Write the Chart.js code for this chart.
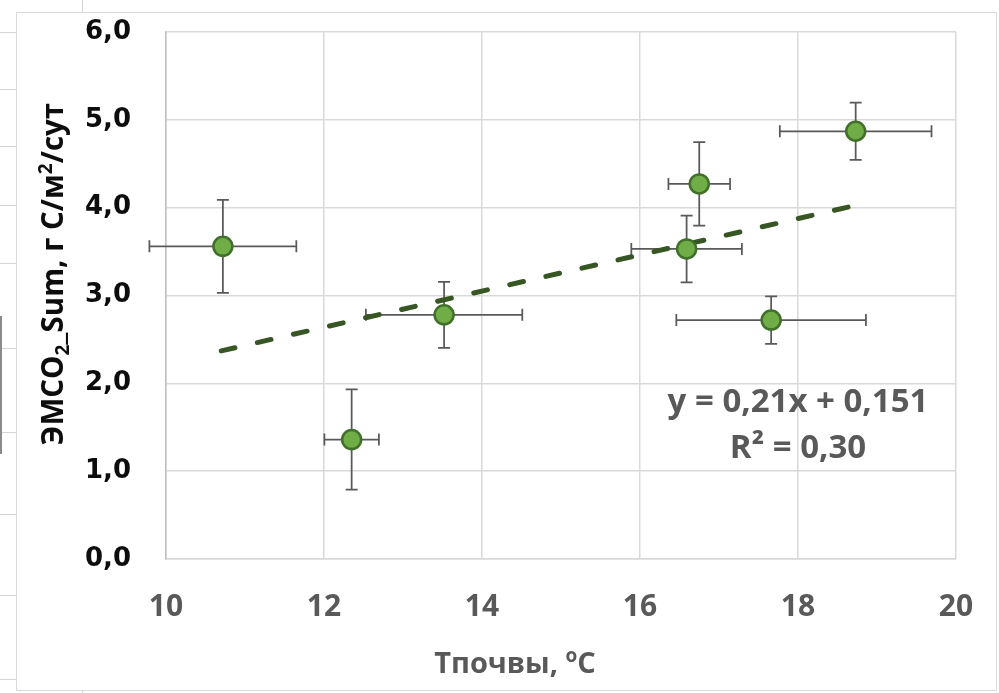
<!DOCTYPE html>
<html>
<head>
<meta charset="utf-8">
<script src="https://cdn.jsdelivr.net/npm/chart.js@4.4.1/dist/chart.umd.min.js"></script>
<style>
  html, body { margin: 0; padding: 0; background: #fff; }
  body { width: 999px; height: 693px; position: relative; overflow: hidden; }
  .cell-h { position: absolute; left: 0; width: 16px; height: 1px; background: #d4d4d4; }
  .cell-v { position: absolute; width: 1px; background: #d4d4d4; }
  .frame { position: absolute; left: 16px; top: 12px; width: 979px; height: 677px; border: 1px solid #d9d9d9; background: #fff; }
</style>
</head>
<body>
<!-- spreadsheet cells behind the chart -->
<div class="cell-h" style="top:32px"></div>
<div class="cell-h" style="top:89px"></div>
<div class="cell-h" style="top:146px"></div>
<div class="cell-h" style="top:205px"></div>
<div class="cell-h" style="top:263px"></div>
<div class="cell-h" style="top:348px"></div>
<div class="cell-h" style="top:432px"></div>
<div class="cell-h" style="top:514px"></div>
<div class="cell-h" style="top:595px"></div>
<div class="cell-h" style="top:679px"></div>
<div class="cell-v" style="left:82px; top:0; height:12px"></div>
<div class="cell-v" style="left:82px; top:690px; height:3px"></div>
<div class="cell-v" style="left:0; top:316px; height:138px; width:2px; background:#8a8a8a"></div>

<div class="frame">
  <canvas id="scatterChart" width="979" height="677"></canvas>
</div>

<script>
// data
const tempX    = [10.72, 12.35, 13.52, 16.59, 16.75, 17.66, 18.73];
const emco2    = [3.56, 1.36, 2.78, 3.53, 4.27, 2.72, 4.87];
const tempErr  = [0.93, 0.345, 0.99, 0.70, 0.39, 1.20, 0.96];
const emco2Err = [0.53, 0.57, 0.375, 0.38, 0.475, 0.27, 0.325];

// linear trend line ends
const trendX = [10.7, 18.75];
const trendY = [2.37, 4.03];

// tick values
const xTicks = [10, 12, 14, 16, 18, 20];
const yTicks = [0, 1, 2, 3, 4, 5, 6];

const eqText = 'y = 0,21x + 0,151';
const r2Text = 'R² = 0,30';

const points = tempX.map((x, i) => ({ x: x, y: emco2[i] }));
const trend = trendX.map((x, i) => ({ x: x, y: trendY[i] }));

// error bars, drawn under the markers
const errorBars = {
  id: 'errorBars',
  beforeDatasetsDraw(chart) {
    const ctx = chart.ctx;
    const xs = chart.scales.x, ys = chart.scales.y;
    const cap = 6;
    ctx.save();
    ctx.strokeStyle = '#595959';
    ctx.lineWidth = 1.75;
    tempX.forEach((x, i) => {
      const px = xs.getPixelForValue(x);
      const py = ys.getPixelForValue(emco2[i]);
      const x1 = xs.getPixelForValue(x - tempErr[i]);
      const x2 = xs.getPixelForValue(x + tempErr[i]);
      const y1 = ys.getPixelForValue(emco2[i] + emco2Err[i]);
      const y2 = ys.getPixelForValue(emco2[i] - emco2Err[i]);
      ctx.beginPath();
      ctx.moveTo(x1, py); ctx.lineTo(x2, py);
      ctx.moveTo(x1, py - cap); ctx.lineTo(x1, py + cap);
      ctx.moveTo(x2, py - cap); ctx.lineTo(x2, py + cap);
      ctx.moveTo(px, y1); ctx.lineTo(px, y2);
      ctx.moveTo(px - cap, y1); ctx.lineTo(px + cap, y1);
      ctx.moveTo(px - cap, y2); ctx.lineTo(px + cap, y2);
      ctx.stroke();
    });
    ctx.restore();
  }
};

// axis titles and trend equation
const chartText = {
  id: 'chartText',
  afterDraw(chart) {
    const ctx = chart.ctx;
    const xs = chart.scales.x, ys = chart.scales.y;
    ctx.save();

    // equation
    ctx.font = 'bold 33px "Open Sans"';
    ctx.fillStyle = '#595959';
    ctx.textAlign = 'center';
    ctx.textBaseline = 'middle';
    ctx.fillText(eqText, xs.getPixelForValue(18.0), ys.getPixelForValue(1.78));
    ctx.fillText(r2Text, xs.getPixelForValue(18.0), ys.getPixelForValue(1.26));

    // x title: Тпочвы, °C with raised o
    const xt1 = 'Тпочвы, ', sup = 'o', xt2 = 'C';
    const big = 'bold 29px "Open Sans"', small = 'bold 19px "Open Sans"';
    ctx.font = big; const w1 = ctx.measureText(xt1).width, w3 = ctx.measureText(xt2).width;
    ctx.font = small; const w2 = ctx.measureText(sup).width;
    let cx = 498 - (w1 + w2 + w3) / 2, cy = 650;
    ctx.textAlign = 'left';
    ctx.textBaseline = 'alphabetic';
    ctx.font = big; ctx.fillText(xt1, cx, cy + 10); cx += w1;
    ctx.font = small; ctx.fillText(sup, cx, cy - 1); cx += w2;
    ctx.font = big; ctx.fillText(xt2, cx, cy + 10);

    // y title: ЭМСО2_Sum, г С/м2/сут with sub and sup
    const parts = [
      ['ЭМСО', 0], ['2', 1], ['_Sum, г С/м', 0], ['2', -1], ['/сут', 0]
    ];
    const fBig = 'bold 29.5px "Open Sans"', fSmall = 'bold 19px "Open Sans"';
    let total = 0;
    parts.forEach(p => { ctx.font = p[1] ? fSmall : fBig; total += ctx.measureText(p[0]).width; });
    ctx.translate(36, 261);
    ctx.rotate(-Math.PI / 2);
    ctx.fillStyle = '#0d0d0d';
    let tx = -total / 2;
    parts.forEach(p => {
      ctx.font = p[1] ? fSmall : fBig;
      const off = p[1] === 1 ? 16 : (p[1] === -1 ? -1 : 10);
      ctx.fillText(p[0], tx, off);
      tx += ctx.measureText(p[0]).width;
    });
    ctx.restore();
  }
};

const ctx = document.getElementById('scatterChart').getContext('2d');
new Chart(ctx, {
  type: 'scatter',
  data: {
    datasets: [{
      label: 'ЭМСО2',
      data: points,
      backgroundColor: '#70AD47',
      borderColor: '#41702A',
      borderWidth: 2.5,
      pointRadius: 9.5,
      order: 0
    }, {
      type: 'line',
      label: 'Линейная',
      data: trend,
      borderColor: '#375623',
      borderWidth: 5,
      borderDash: [14, 23],
      borderCapStyle: 'round',
      pointRadius: 0,
      fill: false,
      order: 1
    }]
  },
  options: {
    responsive: false,
    animation: false,
    layout: { padding: { left: 0, top: 19, right: 40, bottom: 0 } },
    plugins: {
      legend: { display: false },
      tooltip: { enabled: false }
    },
    scales: {
      x: {
        type: 'linear',
        min: 10, max: 20,
        afterBuildTicks: axis => { axis.ticks = xTicks.map(v => ({ value: v })); },
        afterFit: axis => {
          axis.height = 131;
          axis.paddingLeft = 0;
          axis.paddingRight = 0;
        },
        grid: { color: '#d9d9d9', lineWidth: 1.5, drawTicks: false },
        border: { color: '#d9d9d9', width: 1.5 },
        ticks: {
          padding: 30,
          color: '#595959',
          font: { family: 'Open Sans', size: 30, weight: 'bold' }
        }
      },
      y: {
        min: 0, max: 6,
        afterBuildTicks: axis => { axis.ticks = yTicks.map(v => ({ value: v })); },
        afterFit: axis => {
          axis.width = 149;
          axis.paddingTop = 0;
          axis.paddingBottom = 0;
        },
        grid: { color: '#d9d9d9', lineWidth: 1.5, drawTicks: false },
        border: { color: '#bfbfbf', width: 1.5 },
        ticks: {
          padding: 35,
          color: '#0d0d0d',
          font: { family: 'DejaVu Sans', size: 26, weight: 'bold' },
          callback: v => v.toFixed(1).replace('.', ',')
        }
      }
    }
  },
  plugins: [errorBars, chartText]
});
</script>
</body>
</html>
